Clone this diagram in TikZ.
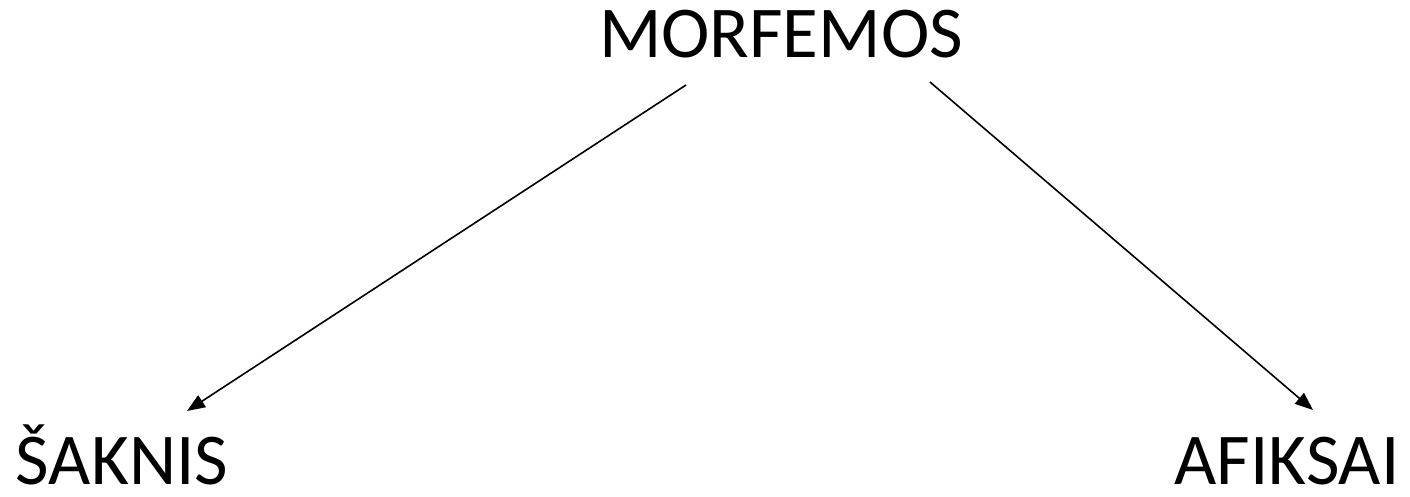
\documentclass[tikz,border=0pt]{standalone}
\usepackage{fontspec}
\setmainfont{Carlito}
\usetikzlibrary{arrows.meta}
\begin{document}
\begin{tikzpicture}[x=1pt,y=-1pt,
  lbl/.style={anchor=base,inner sep=0pt,text depth=0pt,font=\fontsize{73}{76}\selectfont},
  conn/.style={line width=1.6pt,-{Triangle[length=18pt,width=14pt]}}]
\useasboundingbox (0,0) rectangle (1410,496);
\node[lbl] (m) at (781,57) {MORFEMOS};
\node[lbl] (s) at (122,484) {ŠAKNIS};
\node[lbl] (a) at (1287,484) {AFIKSAI};
\coordinate (ms) at (686,85);
\coordinate (me) at (930,82);
\coordinate (st) at (187,411);
\coordinate (at) at (1313,410);
\draw[conn] (ms) -- (st);
\draw[conn] (me) -- (at);
\end{tikzpicture}
\end{document}
